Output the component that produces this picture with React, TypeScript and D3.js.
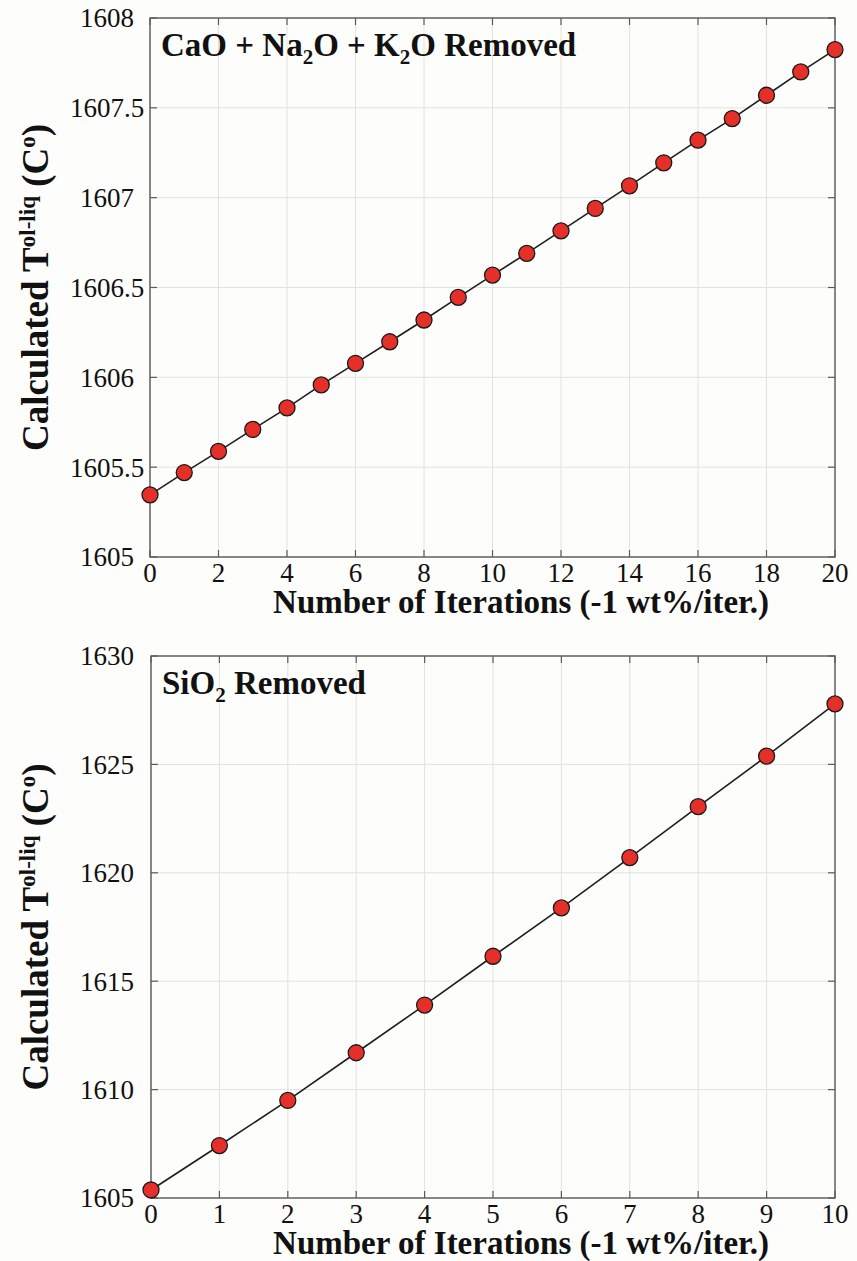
import React from "react";
import * as d3 from "d3";

// Iteration indices and calculated olivine-liquid temperatures
const iterCaNaK = [0, 1, 2, 3, 4, 5, 6, 7, 8, 9, 10, 11, 12, 13, 14, 15, 16, 17, 18, 19, 20];
const tempCaNaK = [
  1605.346, 1605.47, 1605.588, 1605.71, 1605.83, 1605.958, 1606.078, 1606.198, 1606.319, 1606.445,
  1606.569, 1606.69, 1606.815, 1606.94, 1607.066, 1607.194, 1607.32, 1607.44, 1607.57, 1607.70, 1607.824,
];
const xTicksCaNaK = [0, 2, 4, 6, 8, 10, 12, 14, 16, 18, 20];
const yTicksCaNaK = [1605, 1605.5, 1606, 1606.5, 1607, 1607.5, 1608];

const iterSiO2 = [0, 1, 2, 3, 4, 5, 6, 7, 8, 9, 10];
const tempSiO2 = [1605.37, 1607.42, 1609.5, 1611.7, 1613.9, 1616.15, 1618.38, 1620.7, 1623.05, 1625.38, 1627.79];
const xTicksSiO2 = [0, 1, 2, 3, 4, 5, 6, 7, 8, 9, 10];
const yTicksSiO2 = [1605, 1610, 1615, 1620, 1625, 1630];

const FONT = "Liberation Serif, Times New Roman, serif";

type TitlePart = { text: string; sub?: boolean };

const titleCaNaK: TitlePart[] = [
  { text: "CaO + Na" },
  { text: "2", sub: true },
  { text: "O + K" },
  { text: "2", sub: true },
  { text: "O Removed" },
];
const titleSiO2: TitlePart[] = [{ text: "SiO" }, { text: "2", sub: true }, { text: " Removed" }];

type PanelProps = {
  xs: number[];
  ys: number[];
  xDomain: [number, number];
  yDomain: [number, number];
  xTicks: number[];
  yTicks: number[];
  box: { left: number; right: number; top: number; bottom: number };
  title: TitlePart[];
};

function Panel({ xs, ys, xDomain, yDomain, xTicks, yTicks, box, title }: PanelProps) {
  const x = d3.scaleLinear().domain(xDomain).range([box.left, box.right]);
  const y = d3.scaleLinear().domain(yDomain).range([box.bottom, box.top]);
  const pts = xs.map((v, i) => [v, ys[i]] as [number, number]);
  const line = d3
    .line<[number, number]>()
    .x((d) => x(d[0]))
    .y((d) => y(d[1]));
  const tickLen = 7;
  const axisColor = "#5a5a5a";
  const gridColor = "#e2e2e2";
  const midY = (box.top + box.bottom) / 2;
  const subShift = 8;

  return (
    <g>
      {/* grid */}
      {xTicks.map((t) => (
        <line key={"gx" + t} x1={x(t)} x2={x(t)} y1={box.top} y2={box.bottom} stroke={gridColor} strokeWidth={1} />
      ))}
      {yTicks.map((t) => (
        <line key={"gy" + t} x1={box.left} x2={box.right} y1={y(t)} y2={y(t)} stroke={gridColor} strokeWidth={1} />
      ))}
      {/* tick marks on all four sides */}
      {xTicks.map((t) => (
        <g key={"tx" + t}>
          <line x1={x(t)} x2={x(t)} y1={box.bottom} y2={box.bottom - tickLen} stroke={axisColor} strokeWidth={1.2} />
          <line x1={x(t)} x2={x(t)} y1={box.top} y2={box.top + tickLen} stroke={axisColor} strokeWidth={1.2} />
        </g>
      ))}
      {yTicks.map((t) => (
        <g key={"ty" + t}>
          <line x1={box.left} x2={box.left + tickLen} y1={y(t)} y2={y(t)} stroke={axisColor} strokeWidth={1.2} />
          <line x1={box.right} x2={box.right - tickLen} y1={y(t)} y2={y(t)} stroke={axisColor} strokeWidth={1.2} />
        </g>
      ))}
      {/* frame */}
      <rect
        x={box.left}
        y={box.top}
        width={box.right - box.left}
        height={box.bottom - box.top}
        fill="none"
        stroke={axisColor}
        strokeWidth={1.4}
      />
      {/* data */}
      <path d={line(pts) || ""} fill="none" stroke="#1e1e1e" strokeWidth={1.6} />
      {pts.map((p, i) => (
        <circle key={i} cx={x(p[0])} cy={y(p[1])} r={8} fill="#e5302a" stroke="#1a1a1a" strokeWidth={1.3} />
      ))}
      {/* tick labels */}
      {xTicks.map((t) => (
        <text key={"lx" + t} x={x(t)} y={box.bottom + 25} textAnchor="middle" fontFamily={FONT} fontSize={27} fill="#111">
          {t}
        </text>
      ))}
      {yTicks.map((t) => (
        <text
          key={"ly" + t}
          x={107}
          y={y(t)}
          dy="0.35em"
          textAnchor="middle"
          fontFamily={FONT}
          fontSize={27}
          fill="#111"
        >
          {t}
        </text>
      ))}
      {/* axis titles */}
      <text
        x={521}
        y={box.bottom + 56}
        textAnchor="middle"
        fontFamily={FONT}
        fontSize={33}
        fontWeight="bold"
        fill="#111"
      >
        Number of Iterations (-1 wt%/iter.)
      </text>
      <text
        transform={`translate(48,${midY}) rotate(-90)`}
        textAnchor="middle"
        fontFamily={FONT}
        fontSize={37}
        fontWeight="bold"
        fill="#111"
      >
        Calculated T
        <tspan fontSize={23} dy={-13}>ol-liq</tspan>
        <tspan dy={13}> (C</tspan>
        <tspan fontSize={23} dy={-13}>o</tspan>
        <tspan dy={13}>)</tspan>
      </text>
      {/* panel label */}
      <text x={box.left + 11} y={box.top + 38} fontFamily={FONT} fontSize={33} fontWeight="bold" fill="#111">
        {title.map((part, i) => {
          const prevSub = i > 0 && title[i - 1].sub;
          const dy = part.sub ? subShift : prevSub ? -subShift : 0;
          return (
            <tspan key={i} dy={dy} fontSize={part.sub ? 21 : 33}>
              {part.text}
            </tspan>
          );
        })}
      </text>
    </g>
  );
}

export default function App() {
  return (
    <svg
      width={857}
      height={1261}
      style={{ position: "absolute", left: 0, top: 0, background: "#fdfdfb" }}
    >
      <rect x={0} y={0} width={857} height={1261} fill="#fdfdfb" />
      <Panel
        xs={iterCaNaK}
        ys={tempCaNaK}
        xDomain={[0, 20]}
        yDomain={[1605, 1608]}
        xTicks={xTicksCaNaK}
        yTicks={yTicksCaNaK}
        box={{ left: 150, right: 835, top: 18, bottom: 557 }}
        title={titleCaNaK}
      />
      <Panel
        xs={iterSiO2}
        ys={tempSiO2}
        xDomain={[0, 10]}
        yDomain={[1605, 1630]}
        xTicks={xTicksSiO2}
        yTicks={yTicksSiO2}
        box={{ left: 151, right: 835, top: 656, bottom: 1198 }}
        title={titleSiO2}
      />
    </svg>
  );
}
